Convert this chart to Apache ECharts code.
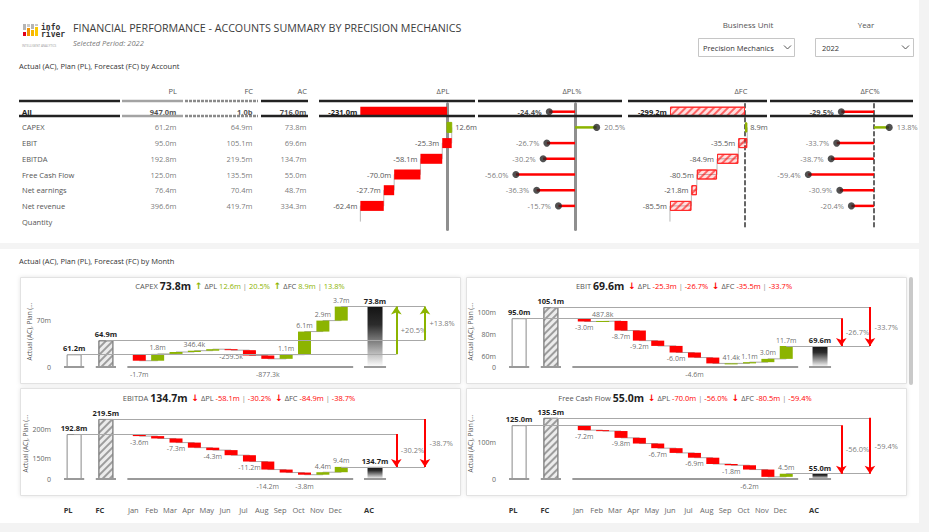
<!DOCTYPE html>
<html>
<head>
<meta charset="utf-8">
<title>Financial Performance - Accounts Summary</title>
<script src="https://cdn.jsdelivr.net/npm/echarts@6/dist/echarts.min.js"></script>
<style>
html,body{margin:0;padding:0;background:#fff;}
#chart{width:929px;height:532px;}
</style>
</head>
<body>
<div id="chart"></div>
<script>
// ================= DATA =================
const accounts = ['All', 'CAPEX', 'EBIT', 'EBITDA', 'Free Cash Flow', 'Net earnings', 'Net revenue', 'Quantity'];
const tableColumns = ['PL', 'FC', 'AC', 'ΔPL', 'ΔPL%', 'ΔFC', 'ΔFC%'];
const plValues = [947.0, 61.2, 95.0, 192.8, 125.0, 76.4, 396.6, null];
const fcValues = [1015.1, 64.9, 105.1, 219.5, 135.5, 70.4, 419.7, null];
const acValues = [716.0, 73.8, 69.6, 134.7, 55.0, 48.7, 334.3, null];
const deltaPL = [-231.0, 12.6, -25.3, -58.1, -70.0, -27.7, -62.4, null];
const deltaPLPct = [-24.4, 20.5, -26.7, -30.2, -56.0, -36.3, -15.7, null];
const deltaFC = [-299.2, 8.9, -35.5, -84.9, -80.5, -21.8, -85.5, null];
const deltaFCPct = [-29.5, 13.8, -33.7, -38.7, -59.4, -30.9, -20.4, null];

const months = ['Jan', 'Feb', 'Mar', 'Apr', 'May', 'Jun', 'Jul', 'Aug', 'Sep', 'Oct', 'Nov', 'Dec'];
const capexByMonth = [-1.7, 1.8, 0.5, 0.3464, 0.4, -0.2595, -1.41, -0.8773, 1.1, 6.1, 2.9, 3.7];
const ebitByMonth = [-3.0, 0.4878, -8.7, -9.2, -4.8, -6.0, -4.6, -5.33, 0.0414, 1.1, 3.0, 11.7];
const ebitdaByMonth = [-3.6, -4.2, -7.3, -9.0, -4.3, -9.0, -11.2, -14.2, -5.3, -3.8, 4.4, 9.4];
const fcfByMonth = [-7.2, -1.3, -9.8, -8.2, -6.7, -6.8, -6.9, -9.1, -1.8, -6.2, -10.5, 4.5];

const capexTicks = [70];
const ebitTicks = [60, 80, 100];
const ebitdaTicks = [150, 200];
const fcfTicks = [100];

const xTickNames = ['PL', 'FC'].concat(months, ['AC']);

// ================= LAYOUT / STYLE =================
const FONT = "'Open Sans', 'Noto Sans', 'DejaVu Sans', sans-serif";
const RED = '#ff0000', GREEN = '#8cb400', TXT = '#555', DARK = '#1e1e1e';
const TABLE_TOP = 103.85, TABLE_H = 125.6;
const SLOT = {PL: -3.55, FC: -1.82, AC: 12.84, dPL: 14.0, dFC: 15.56};
const X_MIN = -4.7, X_MAX = 17, PANEL_W = 398.4;
const xTickValues = [SLOT.PL, SLOT.FC].concat(months.map((m, i) => i), [SLOT.AC]);

const panels = [
  {title: 'CAPEX', row: 1, monthly: capexByMonth, ticks: capexTicks, modes: 'banananbaaaa', yMin: 57.84, yMax: 76.6, left: 53, top: 296, bottom: 367, showX: false, titleX: 240},
  {title: 'EBIT', row: 2, monthly: ebitByMonth, ticks: ebitTicks, modes: 'aaaanabnaaaa', yMin: 50.6, yMax: 115.2, left: 498, top: 296, bottom: 367, showX: false, titleX: 684},
  {title: 'EBITDA', row: 3, monthly: ebitdaByMonth, ticks: ebitdaTicks, modes: 'anananabnbaa', yMin: 113.3, yMax: 238.9, left: 53, top: 408, bottom: 479, showX: true, titleX: 239},
  {title: 'Free Cash Flow', row: 4, monthly: fcfByMonth, ticks: fcfTicks, modes: 'ananananabna', yMin: 47.4, yMax: 149.7, left: 498, top: 408, bottom: 479, showX: true, titleX: 685}
];

function fmtM(v) {
  if (v == null) return '';
  const a = Math.abs(v);
  if (a >= 1000) return (v / 1000).toFixed(1) + 'b';
  if (a >= 1) return v.toFixed(1) + 'm';
  return (v * 1000).toFixed(1) + 'k';
}
function fmtPct(v, plus) { return (plus && v > 0 ? '+' : '') + v.toFixed(1) + '%'; }

const grid = [], xAxis = [], yAxis = [], series = [], title = [], graphic = [];
function addGrid(g, xa, ya) {
  grid.push(g);
  const i = grid.length - 1;
  xAxis.push(Object.assign({gridIndex: i}, xa));
  yAxis.push(Object.assign({gridIndex: i}, ya));
  return i;
}
function rowAxis(extra) {
  return Object.assign({type: 'category', data: accounts, inverse: true,
    axisTick: {show: false}, axisLine: {show: false}, axisLabel: {show: false}, splitLine: {show: false}}, extra);
}

// ================= TABLE =================
const valueCols = [
  {vals: plValues, left: 122, width: 56},
  {vals: fcValues, left: 185, width: 69},
  {vals: acValues, left: 261, width: 47}
];
valueCols.forEach((c, k) => {
  const ya = k === 0 ? rowAxis({axisLabel: {show: true, align: 'left', margin: 100, fontSize: 7.5, color: TXT,
      formatter: v => v === accounts[0] ? '{b|' + v + '}' : v,
      rich: {b: {fontWeight: 'bold', color: DARK, fontSize: 7.5}}}}) : rowAxis({});
  const gi = addGrid({left: c.left, top: TABLE_TOP, width: c.width, height: TABLE_H},
    {type: 'value', min: 0, max: 1, show: false}, ya);
  series.push({type: 'scatter', xAxisIndex: gi, yAxisIndex: gi, symbolSize: 1, silent: true,
    itemStyle: {color: 'transparent'},
    data: c.vals.map((v, i) => v == null ? null : {value: [1, i], txt: fmtM(v),
      label: i === 0 ? {fontWeight: 'bold', color: DARK} : {}}).filter(Boolean),
    label: {show: true, position: 'left', distance: 1, fontSize: 7.5, color: TXT, formatter: p => p.data.txt}});
});

function tableWaterfall(deltas, g, hatched) {
  const gi = addGrid({left: g.left, top: TABLE_TOP, width: g.width, height: TABLE_H},
    {type: 'value', min: g.min, max: g.max, show: false},
    rowAxis({axisLine: {show: true, onZero: true, lineStyle: g.axisLine}}));
  const lows = [], lens = [], levels = [];
  let cur = 0;
  deltas.forEach((d, i) => {
    if (i === 0) { lows.push(Math.min(0, d)); lens.push(Math.abs(d)); return; }
    if (d == null) { lows.push('-'); lens.push(null); levels.push([cur, i]); return; }
    const s = cur; cur += d;
    lows.push(Math.min(s, cur)); lens.push(Math.abs(d)); levels.push([cur, i]);
  });
  series.push({type: 'line', xAxisIndex: gi, yAxisIndex: gi, data: levels, step: 'end', symbol: 'none',
    lineStyle: {color: '#b8b8b8', width: 1}, z: 1, silent: true});
  series.push({type: 'bar', xAxisIndex: gi, yAxisIndex: gi, stack: 's' + gi, stackStrategy: 'all', barWidth: 10,
    data: lows, itemStyle: {color: 'rgba(0,0,0,0)'}, silent: true, z: 2});
  const negStyle = hatched
    ? {color: 'rgba(255,80,80,0.18)', borderColor: '#ff2a2a', borderWidth: 1,
       decal: {symbol: 'rect', symbolSize: 1, color: 'rgba(255,0,0,0.55)', dashArrayX: [1, 0], dashArrayY: [1.5, 2.5], rotation: -Math.PI / 4}}
    : {color: RED};
  series.push({type: 'bar', xAxisIndex: gi, yAxisIndex: gi, stack: 's' + gi, stackStrategy: 'all', barWidth: 10, z: 2, silent: true,
    itemStyle: negStyle,
    data: lens.map((v, i) => v == null ? '-' : {value: v, txt: fmtM(deltas[i]),
      itemStyle: deltas[i] >= 0 ? {color: GREEN, borderColor: GREEN, decal: null} : {},
      label: {position: deltas[i] >= 0 ? 'right' : 'left', fontWeight: i === 0 ? 'bold' : 'normal', color: i === 0 ? DARK : TXT}}),
    label: {show: true, fontSize: 7.5, distance: 3, formatter: p => p.data.txt}});
}

function tableLollipop(pcts, g) {
  const gi = addGrid({left: g.left, top: TABLE_TOP, width: g.width, height: TABLE_H},
    {type: 'value', min: g.min, max: g.max, show: false},
    rowAxis({axisLine: {show: true, onZero: true, lineStyle: g.axisLine}}));
  series.push({type: 'bar', xAxisIndex: gi, yAxisIndex: gi, barWidth: 2.5, silent: true, z: 2,
    data: pcts.map(v => v == null ? '-' : {value: v, itemStyle: {color: v >= 0 ? GREEN : RED}})});
  series.push({type: 'scatter', xAxisIndex: gi, yAxisIndex: gi, symbolSize: 7, itemStyle: {color: '#262626'}, z: 3, silent: true,
    data: pcts.map((v, i) => v == null ? null : {value: [v, i], txt: fmtPct(v),
      label: {position: v >= 0 ? 'right' : 'left', fontWeight: i === 0 ? 'bold' : 'normal', color: i === 0 ? DARK : TXT}}).filter(Boolean),
    label: {show: true, fontSize: 7.5, distance: 4, formatter: p => p.data.txt}});
}

const solidZero = {color: '#8f8f8f', width: 3};
const dashedZero = {color: '#333', width: 1.5, type: [4, 3]};
tableWaterfall(deltaPL, {left: 319, width: 156, min: -341.1, max: 74.6, axisLine: solidZero}, false);
tableLollipop(deltaPLPct, {left: 478, width: 144, min: -91.9, max: 44.5, axisLine: solidZero});
tableWaterfall(deltaFC, {left: 628, width: 139, min: -466.7, max: 87.8, axisLine: dashedZero}, true);
tableLollipop(deltaFCPct, {left: 770, width: 143, min: -94.0, max: 35.3, axisLine: dashedZero});

// ================= MONTHLY PANELS =================
function panelTitleText(p) {
  const r = p.row;
  const part = (lbl, d, pct) => {
    const k = d >= 0 ? 'g' : 'r';
    return '{' + k + 'a|' + (d >= 0 ? '↑' : '↓') + '} {d|' + lbl + '} {' + k + '|' + fmtM(d) + '} {s||} {' + k + '|' + fmtPct(pct) + '}';
  };
  return '{n|' + p.title + '} {v|' + fmtM(acValues[r]) + '}  ' + part('ΔPL', deltaPL[r], deltaPLPct[r]) + '  ' + part('ΔFC', deltaFC[r], deltaFCPct[r]);
}

panels.forEach(p => {
  const r = p.row, pl = plValues[r], fc = fcValues[r], ac = acValues[r];
  const gi = addGrid({left: p.left, top: p.top, width: PANEL_W, height: p.bottom - p.top},
    {type: 'value', min: X_MIN, max: X_MAX, axisLine: {show: false}, axisTick: {show: false}, splitLine: {show: false},
     axisLabel: p.showX ? {show: true, customValues: xTickValues, margin: 27, fontSize: 7.5, color: '#666', padding: [0, 12, 0, 0],
       formatter: v => {
         const k = xTickValues.findIndex(t => Math.abs(t - v) < 1e-6);
         const n = xTickNames[k] || '';
         return (n === 'PL' || n === 'FC' || n === 'AC') ? '{b|' + n + '}' : n;
       },
       rich: {b: {fontWeight: 'bold', color: '#333', fontSize: 7.5}}} : {show: false}},
    {type: 'value', min: p.yMin, max: p.yMax, axisLine: {show: false}, axisTick: {show: false}, splitLine: {show: false},
     name: 'Actual (AC), Plan (...', nameLocation: 'middle', nameGap: 17, nameRotate: 90,
     nameTextStyle: {fontSize: 6.5, color: TXT},
     axisLabel: {show: true, customValues: [p.yMin].concat(p.ticks), margin: 2, fontSize: 7, color: '#666',
       formatter: v => Math.abs(v - p.yMin) < 1e-6 ? '0' : v + 'm'}});

  const lows = [], highs = [], ends = [];
  let cur = pl;
  p.monthly.forEach(v => { const s = cur; cur = s + v; lows.push(Math.min(s, cur)); highs.push(Math.max(s, cur)); ends.push(cur); });

  const base = (a, b) => [{coord: [a, p.yMin], lineStyle: {color: '#9a9a9a', width: 2, type: 'solid'}}, {coord: [b, p.yMin]}];
  // connectors + reference lines + baselines
  series.push({type: 'line', xAxisIndex: gi, yAxisIndex: gi, step: 'end', symbol: 'none', z: 1, silent: true,
    lineStyle: {color: '#a8a8a8', width: 1},
    data: ends.map((v, i) => [i, v]),
    markLine: {silent: true, symbol: ['none', 'none'], label: {show: false}, animation: false,
      lineStyle: {color: '#a8a8a8', width: 1, type: 'solid'},
      data: [
        [{coord: [SLOT.PL, pl]}, {coord: [SLOT.dPL, pl]}],
        [{coord: [SLOT.FC, fc]}, {coord: [SLOT.dFC, fc]}],
        [{coord: [11, ac]}, {coord: [SLOT.dFC, ac]}],
        base(SLOT.PL - 0.55, SLOT.PL + 0.55),
        base(SLOT.FC - 0.55, SLOT.FC + 0.55),
        base(-0.65, 11.65),
        base(SLOT.AC - 0.6, SLOT.AC + 0.6)
      ]}});
  const topLabel = v => ({show: true, position: 'top', distance: 2, fontSize: 7.5, fontWeight: 'bold', color: DARK, formatter: () => fmtM(v)});
  series.push({type: 'bar', xAxisIndex: gi, yAxisIndex: gi, barWidth: 15, barGap: '-100%', z: 2, silent: true,
    data: [[SLOT.PL, pl]], itemStyle: {color: '#fff', borderColor: '#8a8a8a', borderWidth: 1}, label: topLabel(pl)});
  series.push({type: 'bar', xAxisIndex: gi, yAxisIndex: gi, barWidth: 15, barGap: '-100%', z: 2, silent: true,
    data: [[SLOT.FC, fc]], label: topLabel(fc),
    itemStyle: {color: '#ececec', borderColor: '#8a8a8a', borderWidth: 1,
      decal: {symbol: 'rect', symbolSize: 1, color: 'rgba(90,90,90,0.55)', dashArrayX: [1, 0], dashArrayY: [1.2, 2.3], rotation: -Math.PI / 4}}});
  series.push({type: 'bar', xAxisIndex: gi, yAxisIndex: gi, barWidth: 15, barGap: '-100%', z: 2, silent: true,
    data: [[SLOT.AC, ac]], label: topLabel(ac),
    itemStyle: {color: {type: 'linear', x: 0, y: 0, x2: 0, y2: 1,
      colorStops: [{offset: 0, color: '#141414'}, {offset: 0.3, color: '#2c2c2c'}, {offset: 1, color: '#ffffff'}]}}});
  // floating month bars
  series.push({type: 'custom', xAxisIndex: gi, yAxisIndex: gi, z: 3, silent: true,
    encode: {x: 0, y: [1, 2]},
    data: p.monthly.map((v, i) => [i, lows[i], highs[i], v]),
    renderItem: (params, api) => {
      const x = api.value(0), lo = api.value(1), hi = api.value(2), d = api.value(3);
      const a = api.coord([x, hi]), b = api.coord([x, lo]);
      const w = 13;
      return {type: 'rect', shape: {x: a[0] - w / 2, y: a[1], width: w, height: Math.max(b[1] - a[1], 1)},
        style: {fill: d >= 0 ? GREEN : RED}};
    }});
  // labels: months + variance arrows
  const labelData = [];
  p.monthly.forEach((v, i) => {
    const m = p.modes[i];
    if (m === 'a') labelData.push({value: [i, v >= 0 ? highs[i] : lows[i]], txt: fmtM(v), label: {position: v >= 0 ? 'top' : 'bottom'}});
    else if (m === 'b') labelData.push({value: [i, p.yMin], txt: fmtM(v), label: {position: 'bottom', distance: 3}});
  });
  labelData.push({value: [SLOT.dPL, (pl + ac) / 2], txt: fmtPct(deltaPLPct[r], true), label: {position: 'right', distance: 4, fontSize: 7.5, color: TXT}});
  labelData.push({value: [SLOT.dFC, (fc + ac) / 2], txt: fmtPct(deltaFCPct[r], true), label: {position: 'right', distance: 4, fontSize: 7.5, color: TXT}});
  const arrowCol = (d) => d >= 0 ? GREEN : RED;
  series.push({type: 'scatter', xAxisIndex: gi, yAxisIndex: gi, symbolSize: 1, z: 4, silent: true,
    itemStyle: {color: 'transparent'}, data: labelData,
    label: {show: true, fontSize: 7, color: '#444', distance: 2, formatter: q => q.data.txt},
    markLine: {silent: true, label: {show: false}, animation: false, symbolSize: 8,
      data: [
        [{coord: [SLOT.dPL, pl], symbol: 'none', lineStyle: {color: arrowCol(deltaPL[r]), width: 2, type: 'solid'}}, {coord: [SLOT.dPL, ac], symbol: 'arrow'}],
        [{coord: [SLOT.dFC, fc], symbol: 'none', lineStyle: {color: arrowCol(deltaFC[r]), width: 2, type: 'solid'}}, {coord: [SLOT.dFC, ac], symbol: 'arrow'}]
      ]}});

  title.push({text: panelTitleText(p), left: p.titleX, top: p.top - 16, textAlign: 'center', padding: 0,
    textStyle: {fontSize: 7.5, color: TXT, fontWeight: 'normal', fontFamily: FONT,
      rich: {
        n: {fontSize: 7.5, color: TXT}, v: {fontSize: 10.5, fontWeight: 'bold', color: DARK},
        ga: {fontSize: 9, fontWeight: 'bold', color: GREEN}, ra: {fontSize: 9, fontWeight: 'bold', color: RED},
        d: {fontSize: 7.5, color: TXT}, g: {fontSize: 7.5, color: GREEN}, r: {fontSize: 7.5, color: RED},
        s: {fontSize: 7.5, color: '#888'}
      }}});
});

// ================= HEADER TITLES =================
title.push({text: 'FINANCIAL PERFORMANCE - ACCOUNTS SUMMARY BY PRECISION MECHANICS', left: 73, top: 22, padding: 0, textAlign: 'left',
  textStyle: {fontSize: 10.7, fontWeight: 'normal', color: '#3c3c3c', fontFamily: FONT}});
title.push({text: 'Selected Period: 2022', left: 73, top: 38.5, padding: 0, textAlign: 'left',
  textStyle: {fontSize: 7.5, fontStyle: 'italic', fontWeight: 'normal', color: '#777', fontFamily: FONT}});
title.push({text: 'Actual (AC), Plan (PL), Forecast (FC) by Account', left: 19, top: 62, padding: 0, textAlign: 'left',
  textStyle: {fontSize: 7.5, fontWeight: 'normal', color: '#333', fontFamily: FONT}});
title.push({text: 'Actual (AC), Plan (PL), Forecast (FC) by Month', left: 19, top: 257, padding: 0, textAlign: 'left',
  textStyle: {fontSize: 7.5, fontWeight: 'normal', color: '#333', fontFamily: FONT}});

// ================= DECORATION (graphic) =================
const G = o => graphic.push(o);
const txt = (text, x, y, align, size, color, extra) => G(Object.assign({type: 'text', x: x, y: y, z: 5,
  style: Object.assign({text: text, fontSize: size, fontFamily: FONT, fill: color, align: align, verticalAlign: 'middle',
    textAlign: align, textVerticalAlign: 'middle'}, extra || {})}));
G({type: 'rect', z: 0, shape: {x: 919, y: 0, width: 10, height: 532}, style: {fill: '#f3f3f3'}});
G({type: 'rect', z: 0, shape: {x: 0, y: 243, width: 919, height: 6}, style: {fill: '#f4f4f4'}});
G({type: 'rect', z: 0, shape: {x: 0, y: 523, width: 929, height: 9}, style: {fill: '#f3f3f3'}});
[[20.5, 277.5, 440, 106], [466.5, 277.5, 440, 106], [20.5, 388.5, 440, 107], [466.5, 388.5, 440, 107]].forEach(c =>
  G({type: 'rect', z: 0, shape: {x: c[0], y: c[1], width: c[2], height: c[3]},
    style: {fill: '#fff', stroke: '#e2e2e2', lineWidth: 1, shadowBlur: 4, shadowColor: 'rgba(0,0,0,0.10)'}}));
G({type: 'rect', z: 1, shape: {x: 909, y: 277, width: 4, height: 108, r: 2}, style: {fill: '#c9c9c9'}});

// logo
[[23, 24, 3, 6, '#b5b5b5'], [27, 24, 3, 3, '#cacaca'], [31, 24, 3, 5, '#b5b5b5'], [35, 24, 3, 2, '#cacaca'],
 [23, 32, 3, 4, '#e2001a'], [27, 28, 3, 8, '#f39200'], [31, 30, 3, 6, '#f7b500'], [35, 27, 3, 9, '#fbc900']].forEach(b =>
  G({type: 'rect', z: 1, shape: {x: b[0], y: b[1], width: b[2], height: b[3]}, style: {fill: b[4]}}));
txt('info', 41, 27, 'left', 8, '#333', {fontFamily: "'DejaVu Sans Mono', monospace", fontWeight: 'bold'});
txt('river', 41, 34.5, 'left', 8, '#333', {fontFamily: "'DejaVu Sans Mono', monospace", fontWeight: 'bold'});
txt('INTELLIGENT ANALYTICS', 22, 46, 'left', 3, '#999');

// slicers
txt('Business Unit', 748, 24, 'center', 8, '#555');
G({type: 'rect', z: 1, shape: {x: 698.5, y: 38.5, width: 96, height: 18}, style: {fill: '#fff', stroke: '#c6c6c6', lineWidth: 1}});
txt('Precision Mechanics', 703, 47.5, 'left', 7.5, '#333');
G({type: 'polyline', z: 2, shape: {points: [[784, 45.5], [787.5, 49], [791, 45.5]]}, style: {stroke: '#555', lineWidth: 1, fill: null}});
txt('Year', 866, 24, 'center', 8, '#555');
G({type: 'rect', z: 1, shape: {x: 815.5, y: 38.5, width: 98, height: 18}, style: {fill: '#fff', stroke: '#c6c6c6', lineWidth: 1}});
txt('2022', 822, 47.5, 'left', 7.5, '#333');
G({type: 'polyline', z: 2, shape: {points: [[902, 45.5], [905.5, 49], [909, 45.5]]}, style: {stroke: '#555', lineWidth: 1, fill: null}});

// table header texts
const headerLayout = [[177, 'right'], [253, 'right'], [307, 'right'], [443, 'center'], [572, 'center'], [741, 'center'], [870, 'center']];
tableColumns.forEach((c, i) => txt(c, headerLayout[i][0], 90.7, headerLayout[i][1], 7.5, TXT));
// header underlines
const underline = [[19, 120, '#222', null], [122, 183, '#a3a3a3', null], [185, 258, '#8a8a8a', [3, 1]], [261, 308, '#222', null],
  [319, 475, '#222', null], [478, 622, '#222', null], [628, 767, '#222', null], [770, 913, '#222', null]];
[101, 116].forEach(y => underline.forEach(u =>
  G({type: 'line', z: 4, shape: {x1: u[0], y1: y, x2: u[1], y2: y},
    style: {stroke: u[2], lineWidth: 2.5, lineDash: u[3]}})));

// ================= RENDER =================
const chart = echarts.init(document.getElementById('chart'), null, {renderer: 'svg', width: 929, height: 532});
chart.setOption({
  animation: false,
  backgroundColor: '#fff',
  textStyle: {fontFamily: FONT},
  title: title,
  grid: grid,
  xAxis: xAxis,
  yAxis: yAxis,
  series: series,
  graphic: {elements: graphic}
});
</script>
</body>
</html>
